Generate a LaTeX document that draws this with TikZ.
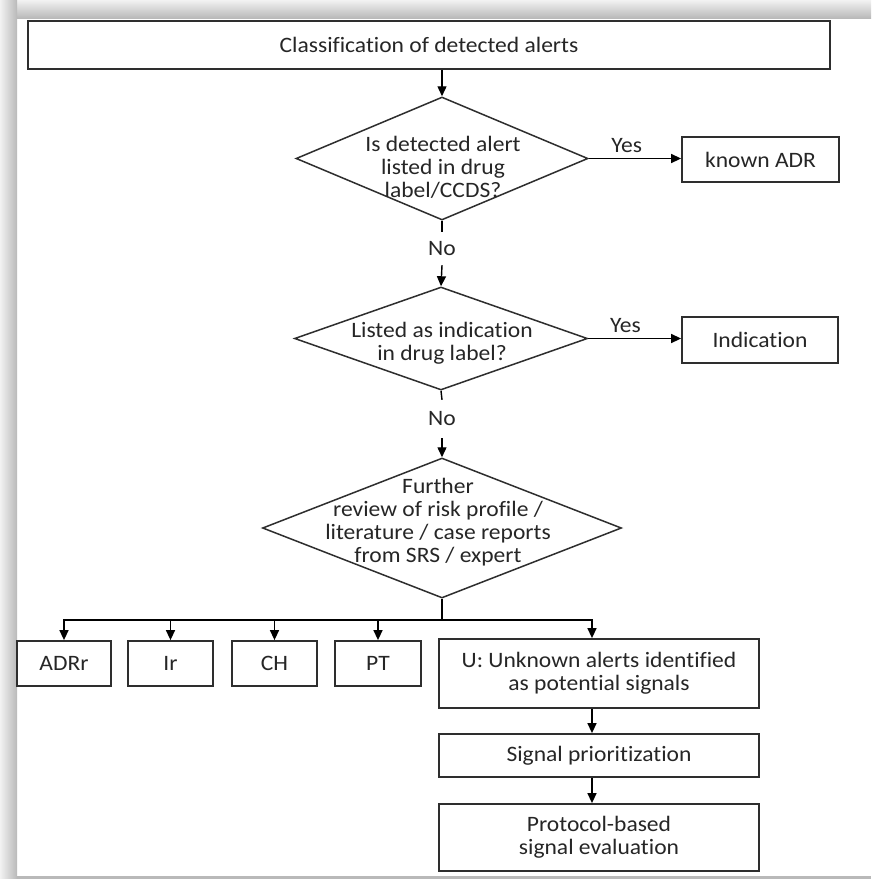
\documentclass[tikz,border=0pt]{standalone}
\usepackage{fontspec}
\setmainfont{Carlito}[FakeStretch=1.07, Ligatures=NoCommon]
\usetikzlibrary{arrows.meta,shapes.geometric,calc}
\definecolor{edgec}{HTML}{2E2E2E}
\definecolor{txt}{HTML}{262626}
\definecolor{bandlight}{HTML}{F2F2F2}
\definecolor{banddark}{HTML}{B9B9B9}
\newcommand{\fs}{\fontsize{22}{23}\selectfont}
\begin{document}
\begin{tikzpicture}[x=1pt,y=-1pt,
  box/.style={draw=edgec, line width=1.8pt, fill=white, inner sep=0pt, align=center, font=\fs, text=txt},
  dia/.style={draw=edgec, line width=1.5pt, diamond, inner sep=0pt},
  lbl/.style={font=\fs, text=txt, align=center, inner sep=0pt},
  arr/.style={draw=black, line width=1.4pt, -{Triangle[length=10pt,width=9pt]}},
  ln/.style={draw=black, line width=1.4pt}]
% canvas and frame shadow
\useasboundingbox (0,0) rectangle (871,879);
\fill[white] (0,0) rectangle (871,879);
\shade[top color=bandlight, bottom color=banddark] (0,0) rectangle (871,18);
\shade[left color=bandlight, right color=banddark] (0,0) rectangle (17,879);
\fill[banddark] (17,876) rectangle (871,879);

% boxes
\node[box, minimum width=802, minimum height=48] (top) at (429,45) {Classification of detected alerts};
\node[box, minimum width=157, minimum height=45] (known) at (760.5,159.5) {known ADR};
\node[box, minimum width=156, minimum height=46] (ind) at (760,340) {Indication};
\node[box, minimum width=94, minimum height=45] (adrr) at (64,663.5) {ADRr};
\node[box, minimum width=85, minimum height=45] (ir) at (170.5,663.5) {Ir};
\node[box, minimum width=85, minimum height=45] (ch) at (274.5,663.5) {CH};
\node[box, minimum width=86, minimum height=45] (pt) at (378,663.5) {PT};
\node[box, minimum width=320, minimum height=69] (u) at (599,673.5) {U: Unknown alerts identified\\as potential signals};
\node[box, minimum width=320, minimum height=43] (sp) at (599,755.5) {Signal prioritization};
\node[box, minimum width=320, minimum height=67] (prot) at (599,837.5) {Protocol-based\\signal evaluation};

% decisions
\node[dia, minimum width=292, minimum height=123] (d1) at (442,158.5) {};
\node[dia, minimum width=293, minimum height=103] (d2) at (441,338.5) {};
\node[dia, minimum width=359, minimum height=140] (d3) at (442,528) {};
\node[lbl] (t1) at (443,167) {Is detected alert\\listed in drug\\label/CCDS?};
\node[lbl] (t2) at (442,343.5) {Listed as indication\\in drug label?};
\node[lbl] (t3) at (438,522) {Further\\review of risk profile /\\literature / case reports\\from SRS / expert};

% No labels
\node[lbl, minimum height=33] (no1) at (442,248.5) {No};
\node[lbl, minimum height=38] (no2) at (442,419) {No};

% connectors
\draw[arr] (d1.north |- top.south) -- (d1.north);
\draw[arr] (d1.east) -- node[lbl, above=5pt, pos=0.41] {Yes} (d1.east -| known.west);
\draw[ln] (d1.south) -- (no1.north);
\draw[arr] (no1.south) -- (d2.north);
\draw[arr] (d2.east) -- node[lbl, above=5pt, pos=0.4] {Yes} (d2.east -| ind.west);
\draw[ln] (d2.south) -- (no2.north);
\draw[arr] (no2.south) -- (d3.north);

\coordinate (bus) at (442,620);
\coordinate (ucol) at (592,620);
\draw[ln] (d3.south) -- (bus);
\draw[ln, line cap=rect] (bus -| adrr.north) -- (ucol);
\foreach \b in {adrr,ir,ch,pt} {
  \draw[arr] (bus -| \b.north) -- (\b.north);
}
\draw[arr] (ucol) -- (ucol |- u.north);
\draw[arr] (ucol |- u.south) -- (ucol |- sp.north);
\draw[arr] (ucol |- sp.south) -- (ucol |- prot.north);
\end{tikzpicture}
\end{document}
